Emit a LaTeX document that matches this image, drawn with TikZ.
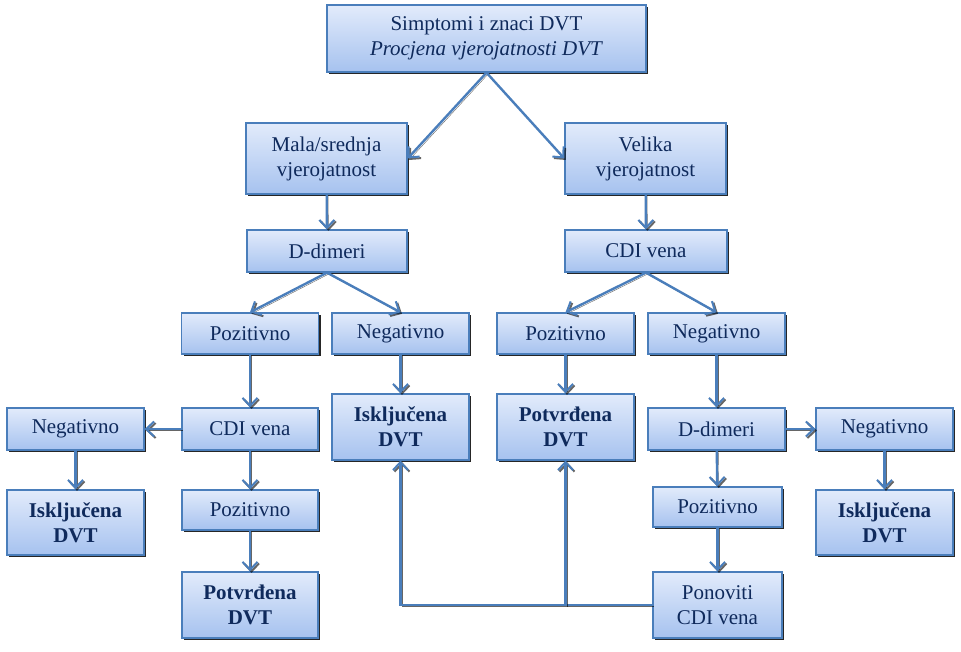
\documentclass[tikz,border=0pt]{standalone}
\usepackage{fontspec}
\setmainfont{Liberation Serif}
\usepackage{xcolor}
\usepackage{tikz}
\usetikzlibrary{shadows,arrows.meta}
\definecolor{boxline}{HTML}{4A7EBB}
\definecolor{boxtop}{HTML}{E2EBFB}
\definecolor{boxbot}{HTML}{A6C2EF}
\definecolor{navy}{HTML}{0F2A5C}
\tikzstyle{box}=[draw=boxline, line width=1.3pt, rectangle, top color=boxtop, bottom color=boxbot,
  text=navy, align=center, inner sep=.5mm, font=\fontsize{21}{25}\selectfont,
  drop shadow={shadow xshift=2.2pt, shadow yshift=-2.2pt, opacity=.85, fill=black}]
\tikzstyle{res}=[box, font=\fontsize{21}{25}\selectfont\bfseries]
\tikzstyle{link}=[draw=boxline, line width=2.4pt, -{Straight Barb[length=8pt, width=15pt, line width=2pt]},
  preaction={draw=black, opacity=.6, transform canvas={shift={(1.5pt,-1.5pt)}}}]

\begin{document}
\begin{tikzpicture}[x=1pt, y=-1pt]
\useasboundingbox (0,0) rectangle (961,652);
\node[box, minimum width=319pt, minimum height=67pt] (top) at (486.5,38.5)
  {Simptomi i znaci DVT\\\textit{Procjena vjerojatnosti DVT}};
\node[box, minimum width=161pt, minimum height=71pt] (mala) at (326.5,158.5) {Mala/srednja\\vjerojatnost};
\node[box, minimum width=161pt, minimum height=71pt] (velika) at (645.5,158.5) {Velika\\vjerojatnost};
\node[box, minimum width=160pt, minimum height=42pt] (ddL) at (327,251) {D-dimeri};
\node[box, minimum width=162pt, minimum height=42pt] (cdiR) at (646,251) {CDI vena};
% third row
\foreach \n/\x/\t in {pozL/250/Pozitivno, negL/400.5/Negativno, pozR/565.5/Pozitivno, negR/716.5/Negativno}
  \node[box, minimum width=137pt, minimum height=41pt] (\n) at (\x,333.5) {\t};
% left branch
\node[box, minimum width=137pt, minimum height=42pt] (negFL) at (75.5,429) {Negativno};
\node[box, minimum width=136pt, minimum height=42pt] (cdiL) at (250,429) {CDI vena};
\node[res, minimum width=137pt, minimum height=65pt] (iskFL) at (75.5,522.5) {Isključena\\DVT};
\node[box, minimum width=136pt, minimum height=40pt] (pozL2) at (250,510) {Pozitivno};
\node[res, minimum width=136pt, minimum height=66pt] (potL) at (250,605) {Potvrđena\\DVT};
% middle results
\node[res, minimum width=137pt, minimum height=66pt] (iskM) at (400.5,427) {Isključena\\DVT};
\node[res, minimum width=137pt, minimum height=66pt] (potM) at (565.5,427) {Potvrđena\\DVT};
% right branch
\node[box, minimum width=137pt, minimum height=42pt] (ddR) at (716.5,429) {D-dimeri};
\node[box, minimum width=137pt, minimum height=42pt] (negFR) at (884.5,429) {Negativno};
\node[box, minimum width=129pt, minimum height=40pt] (pozR2) at (717.5,507) {Pozitivno};
\node[res, minimum width=137pt, minimum height=65pt] (iskFR) at (884.5,522.5) {Isključena\\DVT};
\node[box, minimum width=129pt, minimum height=66pt] (pon) at (717.5,605) {Ponoviti\\CDI vena};
\foreach \f/\t in {top.south/mala.east, top.south/velika.west, mala/ddL, velika/cdiR,
    ddL.south/pozL.north, ddL.south/negL.north, cdiR.south/pozR.north, cdiR.south/negR.north,
    pozL/cdiL, negL/iskM, pozR/potM, negR/ddR, cdiL/negFL, cdiL/pozL2, negFL/iskFL, pozL2/potL,
    ddR/negFR, ddR/pozR2, negFR/iskFR, pozR2/pon}
  \draw[link] (\f) -- (\t);
\coordinate (back) at (pon.west -| potM.south);
\draw[link] (pon.west) -| (iskM.south);
\draw[link] (back) -- (potM.south);
\end{tikzpicture}
\end{document}
